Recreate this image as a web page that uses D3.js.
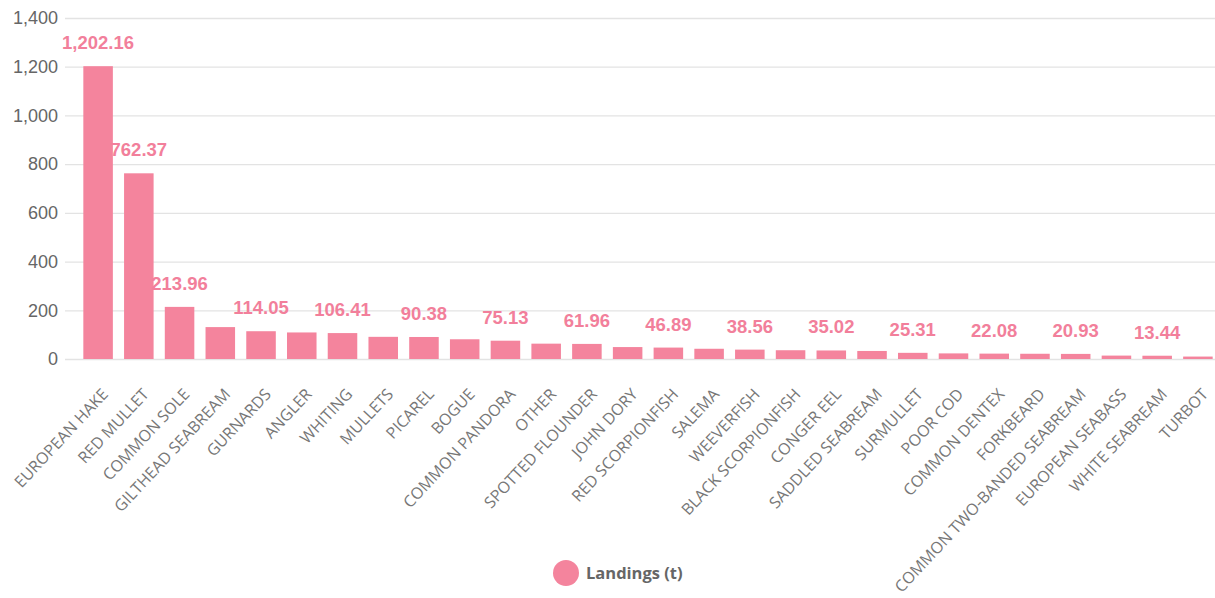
<!DOCTYPE html>
<html>
<head>
<meta charset="utf-8">
<script src="https://cdn.jsdelivr.net/npm/d3@7"></script>
<style>
  body { margin: 0; background: #fff; }
  svg { display: block; }
</style>
</head>
<body>
<svg id="chart" width="1215" height="598"></svg>
<script>
const species = [
    "EUROPEAN HAKE", "RED MULLET", "COMMON SOLE", "GILTHEAD SEABREAM", "GURNARDS",
    "ANGLER", "WHITING", "MULLETS", "PICAREL", "BOGUE", "COMMON PANDORA", "OTHER",
    "SPOTTED FLOUNDER", "JOHN DORY", "RED SCORPIONFISH", "SALEMA", "WEEVERFISH",
    "BLACK SCORPIONFISH", "CONGER EEL", "SADDLED SEABREAM", "SURMULLET", "POOR COD",
    "COMMON DENTEX", "FORKBEARD", "COMMON TWO-BANDED SEABREAM", "EUROPEAN SEABASS",
    "WHITE SEABREAM", "TURBOT"
];
const landings = [
    1202.16, 762.37, 213.96, 131, 114.05,
    109, 106.41, 91, 90.38, 81, 75.13, 63,
    61.96, 49, 46.89, 42, 38.56,
    36, 35.02, 33, 25.31, 23,
    22.08, 21.5, 20.93, 14,
    13.44, 10
];
// labels the original shows (the rest were hidden to avoid overlap)
const labelled = [0, 1, 2, 4, 6, 8, 10, 12, 14, 16, 18, 20, 22, 24, 26];
const yTicks = [0, 200, 400, 600, 800, 1000, 1200, 1400];
const seriesName = "Landings (t)";

const barColor = "#f4849d";
const labelColor = "#f27f9b";

const svg = d3.select("#chart");
const margin = { left: 65, right: 0, top: 18, bottom: 239 };
const width = +svg.attr("width"), height = +svg.attr("height");

// band scale runs a little past the right edge, like the original
const x = d3.scaleBand()
    .domain(species)
    .range([margin.left, 1231])
    .paddingInner(0.275)
    .paddingOuter(0.45);

const y = d3.scaleLinear()
    .domain([0, 1400])
    .range([height - margin.bottom, margin.top]);

// grid + y axis
const yAxis = svg.append("g")
    .attr("transform", "translate(" + margin.left + ",0)")
    .call(d3.axisLeft(y).tickValues(yTicks).tickSize(-(width - margin.left)).tickFormat(d3.format(",")));
yAxis.select(".domain").remove();
yAxis.selectAll(".tick line").attr("stroke", "#e3e3e3").attr("stroke-width", 1.3);
yAxis.selectAll(".tick text")
    .attr("x", -7)
    .attr("fill", "#666")
    .style("font-family", "'Liberation Sans', Arial, sans-serif")
    .style("font-size", "18px");

// bars
svg.append("g").selectAll("rect")
    .data(landings)
    .enter().append("rect")
    .attr("x", (d, i) => x(species[i]))
    .attr("y", d => y(d))
    .attr("width", x.bandwidth())
    .attr("height", d => y(0) - y(d))
    .attr("fill", barColor);

// value labels
svg.append("g").selectAll("text")
    .data(labelled)
    .enter().append("text")
    .attr("x", i => x(species[i]) + x.bandwidth() / 2)
    .attr("y", i => y(landings[i]) - 17)
    .attr("text-anchor", "middle")
    .attr("fill", labelColor)
    .style("font-family", "'Liberation Sans', Arial, sans-serif")
    .style("font-weight", "bold")
    .style("font-size", "18.5px")
    .text(i => d3.format(",.2f")(landings[i]));

// category labels
svg.append("g").selectAll("text")
    .data(species)
    .enter().append("text")
    .attr("transform", d => "translate(" + (x(d) + x.bandwidth() / 2 + 11) + "," + (y(0) + 36) + ") rotate(-47)")
    .attr("text-anchor", "end")
    .attr("fill", "#777")
    .style("font-family", "'Open Sans', sans-serif")
    .style("font-size", "16px")
    .text(d => d);

// legend
const legend = svg.append("g").attr("transform", "translate(566,573)");
legend.append("circle").attr("r", 13).attr("fill", barColor);
legend.append("text")
    .attr("x", 20)
    .attr("dy", "0.35em")
    .attr("fill", "#666")
    .style("font-family", "'Open Sans', sans-serif")
    .style("font-weight", "bold")
    .style("font-size", "16.5px")
    .text(seriesName);
</script>
</body>
</html>
